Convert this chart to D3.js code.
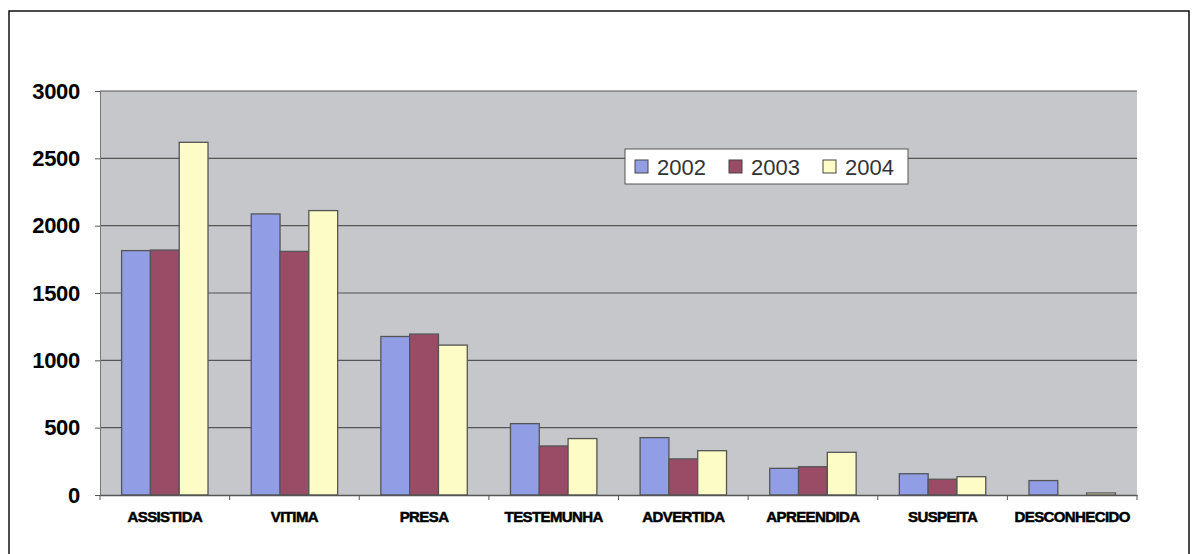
<!DOCTYPE html>
<html>
<head>
<meta charset="utf-8">
<script src="https://cdn.jsdelivr.net/npm/d3@7"></script>
<style>
  body { margin: 0; background: #fff; }
  svg { display: block; }
</style>
</head>
<body>
<svg id="chart" width="1192" height="554"></svg>
<script>
var categories = ["ASSISTIDA", "VITIMA", "PRESA", "TESTEMUNHA", "ADVERTIDA", "APREENDIDA", "SUSPEITA", "DESCONHECIDO"];
var years = ["2002", "2003", "2004"];
var values2002 = [1815, 2087, 1177, 530, 426, 198, 158, 107];
var values2003 = [1819, 1809, 1195, 364, 268, 210, 117, 0];
var values2004 = [2619, 2112, 1113, 419, 329, 317, 136, 15];
var yTicks = [0, 500, 1000, 1500, 2000, 2500, 3000];
var colors = ["#919ee6", "#9a4b66", "#fdfbc6"];

var svg = d3.select("#chart");
var margin = { left: 100, right: 55, top: 91, bottom: 59 };
var width = 1192 - margin.left - margin.right,
    height = 554 - margin.top - margin.bottom;

// outer frame of the scanned chart
svg.append("path")
    .attr("d", "M9,554 V11 H1189 V554")
    .attr("fill", "none")
    .attr("stroke", "#111")
    .attr("stroke-width", 1.5);

var g = svg.append("g")
    .attr("transform", "translate(" + margin.left + "," + margin.top + ")");

var x0 = d3.scaleBand().domain(categories).range([0, width]).paddingInner(0).paddingOuter(0);
var barW = x0.bandwidth() / 4.5;
var x1 = d3.scaleBand().domain(years).range([0, barW * 3]);
var y = d3.scaleLinear().domain([0, 3000]).range([height, 0]);

g.append("rect")
    .attr("width", width)
    .attr("height", height)
    .attr("fill", "#c5c7ca");

g.append("g")
    .selectAll("line")
    .data(yTicks.slice(1))
    .enter()
    .append("line")
    .attr("x1", 0)
    .attr("x2", width)
    .attr("y1", function (d) { return y(d); })
    .attr("y2", function (d) { return y(d); })
    .attr("stroke", "#555")
    .attr("stroke-width", 1.2);

var series = [values2002, values2003, values2004];
var rows = categories.map(function (c, i) {
    return { cat: c, vals: years.map(function (yr, j) { return { year: yr, v: series[j][i], idx: j }; }) };
});

var group = g.selectAll(".cat")
    .data(rows)
    .enter()
    .append("g")
    .attr("class", "cat")
    .attr("transform", function (d) {
        return "translate(" + (x0(d.cat) + (x0.bandwidth() - barW * 3) / 2) + ",0)";
    });

group.selectAll("rect")
    .data(function (d) { return d.vals.filter(function (v) { return v.v > 0; }); })
    .enter()
    .append("rect")
    .attr("x", function (d) { return x1(d.year); })
    .attr("width", x1.bandwidth())
    .attr("y", function (d) { return y(d.v); })
    .attr("height", function (d) { return height - y(d.v); })
    .attr("fill", function (d) { return colors[d.idx]; })
    .attr("stroke", "#555")
    .attr("stroke-width", 1.3);

// y axis
var yAxis = g.append("g")
    .call(d3.axisLeft(y).tickValues(yTicks).tickFormat(d3.format("d")).tickSize(5).tickPadding(15));
yAxis.select(".domain").attr("stroke", "#777");
yAxis.selectAll(".tick line").attr("stroke", "#555");
yAxis.selectAll("text")
    .attr("font-family", "Liberation Sans, Arial, sans-serif")
    .attr("font-weight", "bold")
    .attr("font-size", "22px")
    .attr("letter-spacing", "-0.3px")
    .attr("fill", "#000");

// x axis
var xAxis = g.append("g")
    .attr("transform", "translate(0," + height + ")")
    .call(d3.axisBottom(x0).tickSize(0).tickPadding(16));
xAxis.select(".domain").attr("stroke", "#555").attr("stroke-width", 1.3);
xAxis.selectAll("text")
    .attr("font-family", "Liberation Sans, Arial, sans-serif")
    .attr("font-weight", "bold")
    .attr("font-size", "15px")
    .attr("letter-spacing", "-0.6px")
    .attr("stroke", "#000")
    .attr("stroke-width", 0.5)
    .attr("fill", "#000");
xAxis.selectAll(".sep")
    .data(d3.range(categories.length + 1))
    .enter()
    .append("line")
    .attr("x1", function (i) { return i * x0.bandwidth(); })
    .attr("x2", function (i) { return i * x0.bandwidth(); })
    .attr("y1", 0)
    .attr("y2", 5)
    .attr("stroke", "#555");

// legend
var legend = svg.append("g").attr("transform", "translate(625,149)");
legend.append("rect")
    .attr("width", 283)
    .attr("height", 35)
    .attr("fill", "#fff")
    .attr("stroke", "#555")
    .attr("stroke-width", 1);
var li = legend.selectAll(".li")
    .data(years)
    .enter()
    .append("g")
    .attr("transform", function (d, i) { return "translate(" + (10 + i * 94) + ",0)"; });
li.append("rect")
    .attr("y", 11)
    .attr("width", 13)
    .attr("height", 13)
    .attr("fill", function (d, i) { return colors[i]; })
    .attr("stroke", "#444");
li.append("text")
    .attr("x", 22)
    .attr("y", 26)
    .attr("font-family", "Liberation Sans, Arial, sans-serif")
    .attr("font-size", "22px")
    .attr("fill", "#333")
    .text(function (d) { return d; });
</script>
</body>
</html>
